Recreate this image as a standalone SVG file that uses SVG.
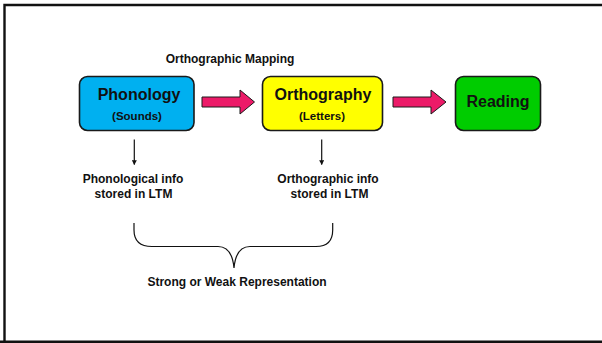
<svg xmlns="http://www.w3.org/2000/svg" width="602" height="343" viewBox="0 0 602 343">
  <defs>
    <style>
      text { font-family: "Liberation Sans", Arial, sans-serif; font-weight: bold; fill: #111; text-anchor: middle; }
      .title { font-size: 16px; }
      .sub { font-size: 11.5px; }
      .label { font-size: 12px; }
      .box { stroke: #1a1a1a; stroke-width: 1.6; }
      .fat { fill: #EC1A68; stroke: #1a1a1a; stroke-width: 1; }
      .thin { stroke: #111; stroke-width: 1.2; fill: none; }
    </style>
    <marker id="tip" viewBox="0 0 8 8" refX="7" refY="4" markerWidth="5" markerHeight="5" orient="auto" markerUnits="userSpaceOnUse">
      <path d="M0,0 L8,4 L0,8 z" fill="#111"/>
    </marker>
  </defs>

  <rect width="602" height="343" fill="#fff"/>
  <!-- frame -->
  <path d="M4.5,343 L4.5,5 L602,5" fill="none" stroke="#111" stroke-width="2.4"/>
  <line x1="0" y1="341.8" x2="602" y2="341.8" stroke="#111" stroke-width="2.4"/>

  <text class="label" x="230" y="63">Orthographic Mapping</text>

  <g id="phonology">
    <rect class="box" x="79.5" y="76.5" width="114.5" height="54" rx="8" fill="#00B0F0"/>
    <text class="title" x="139" y="100">Phonology</text>
    <text class="sub" x="137" y="120">(Sounds)</text>
  </g>

  <g id="orthography">
    <rect class="box" x="262.5" y="76.5" width="120" height="54" rx="8" fill="#FFFF00"/>
    <text class="title" x="323" y="100">Orthography</text>
    <text class="sub" x="322" y="120">(Letters)</text>
  </g>

  <g id="reading">
    <rect class="box" x="455.5" y="76.5" width="85" height="54" rx="8" fill="#00CC00"/>
    <text class="title" x="498" y="107">Reading</text>
  </g>

  <g id="phon-info">
    <text class="label" x="133" y="183">Phonological info</text>
    <text class="label" x="133.5" y="198">stored in LTM</text>
  </g>

  <g id="orth-info">
    <text class="label" x="328" y="183">Orthographic info</text>
    <text class="label" x="329.5" y="198">stored in LTM</text>
  </g>

  <g id="representation">
    <text class="label" x="237" y="286">Strong or Weak Representation</text>
  </g>

  <g id="connectors">
    <path class="fat" d="M202,97 L240,97 L240,90 L254.5,102 L240,114 L240,107 L202,107 z"/>
    <path class="fat" d="M393,97 L431,97 L431,90 L446,102 L431,114 L431,107 L393,107 z"/>
    <line class="thin" x1="134.3" y1="139.5" x2="134.3" y2="164.5" marker-end="url(#tip)"/>
    <line class="thin" x1="321.7" y1="139.5" x2="321.7" y2="164.5" marker-end="url(#tip)"/>
    <!-- brace -->
    <path class="thin" stroke-width="1.6" d="M134,223 L134,230 Q134,246.5 152,246.5 L218,246.5 Q232,246.5 234,268 Q236,246.5 250,246.5 L316,246.5 Q332.7,246.5 332.7,230 L332.7,223"/>
  </g>
</svg>
